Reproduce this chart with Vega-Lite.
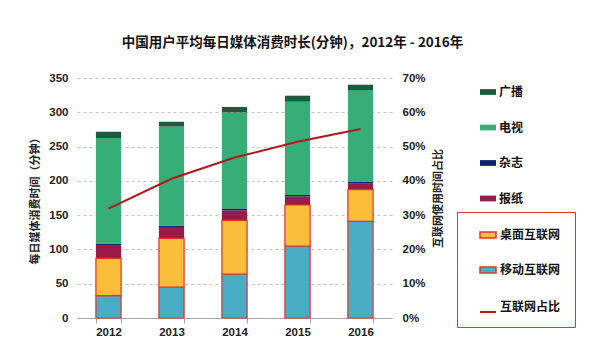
{
  "$schema": "https://vega.github.io/schema/vega-lite/v6.json",
  "width": 315,
  "height": 240,
  "autosize": {"type": "none"},
  "padding": {"left": 77, "top": 78, "right": 208, "bottom": 40},
  "background": "white",
  "title": {
    "text": "中国用户平均每日媒体消费时长(分钟)，2012年  -  2016年",
    "font": "Noto Sans CJK SC",
    "fontSize": 13.5,
    "fontWeight": "bold",
    "color": "#111111",
    "anchor": "middle",
    "dx": 58,
    "offset": 23
  },
  "datasets": {
    "bars": [
      {"年份": "2012", "媒体": "移动互联网", "分钟": 32.5},
      {"年份": "2012", "媒体": "桌面互联网", "分钟": 54.5},
      {"年份": "2012", "媒体": "报纸", "分钟": 18.4},
      {"年份": "2012", "媒体": "杂志", "分钟": 2.9},
      {"年份": "2012", "媒体": "电视", "分钟": 154.1},
      {"年份": "2012", "媒体": "广播", "分钟": 9.2},
      {"年份": "2013", "媒体": "移动互联网", "分钟": 45.2},
      {"年份": "2013", "媒体": "桌面互联网", "分钟": 70.9},
      {"年份": "2013", "媒体": "报纸", "分钟": 16.6},
      {"年份": "2013", "媒体": "杂志", "分钟": 1.9},
      {"年份": "2013", "媒体": "电视", "分钟": 144.8},
      {"年份": "2013", "媒体": "广播", "分钟": 6.9},
      {"年份": "2014", "媒体": "移动互联网", "分钟": 64.2},
      {"年份": "2014", "媒体": "桌面互联网", "分钟": 78.1},
      {"年份": "2014", "媒体": "报纸", "分钟": 14.6},
      {"年份": "2014", "媒体": "杂志", "分钟": 2.9},
      {"年份": "2014", "媒体": "电视", "分钟": 140.0},
      {"年份": "2014", "媒体": "广播", "分钟": 7.9},
      {"年份": "2015", "媒体": "移动互联网", "分钟": 105.0},
      {"年份": "2015", "媒体": "桌面互联网", "分钟": 59.8},
      {"年份": "2015", "媒体": "报纸", "分钟": 12.5},
      {"年份": "2015", "媒体": "杂志", "分钟": 2.1},
      {"年份": "2015", "媒体": "电视", "分钟": 136.0},
      {"年份": "2015", "媒体": "广播", "分钟": 8.8},
      {"年份": "2016", "媒体": "移动互联网", "分钟": 140.9},
      {"年份": "2016", "媒体": "桌面互联网", "分钟": 46.2},
      {"年份": "2016", "媒体": "报纸", "分钟": 8.8},
      {"年份": "2016", "媒体": "杂志", "分钟": 2.9},
      {"年份": "2016", "媒体": "电视", "分钟": 133.6},
      {"年份": "2016", "媒体": "广播", "分钟": 7.8}
    ],
    "share": [
      {"年份": "2012", "占比": 0.319},
      {"年份": "2013", "占比": 0.406},
      {"年份": "2014", "占比": 0.468},
      {"年份": "2015", "占比": 0.514},
      {"年份": "2016", "占比": 0.551}
    ]
  },
  "layer": [
    {
      "data": {"name": "bars"},
      "transform": [
        {"stack": "分钟", "groupby": ["年份"], "as": ["v0", "v1"]}
      ],
      "layer": [
        {
          "transform": [{"filter": {"field": "媒体", "oneOf": ["广播", "电视", "杂志", "报纸"]}}],
          "mark": {"type": "bar"},
          "encoding": {
            "x": {
              "field": "年份", "type": "nominal",
              "scale": {"paddingInner": 0.6, "paddingOuter": 0.3},
              "axis": {"title": null, "labelAngle": 0, "tickBand": "extent", "domainColor": "#a6a6a6", "tickColor": "#a6a6a6", "tickSize": 5, "labelPadding": 3, "labelFont": "Liberation Sans", "labelFontSize": 11.5, "labelFontWeight": "bold", "labelColor": "#222222"}
            },
            "y": {
              "field": "v1", "type": "quantitative",
              "scale": {"domain": [0, 350], "nice": false},
              "axis": {"title": "每日媒体消费时间（分钟）", "values": [0, 50, 100, 150, 200, 250, 300, 350], "domain": false, "ticks": false, "grid": true, "gridDash": [3, 3], "gridColor": "#c4c4c4", "labelPadding": 9, "titlePadding": 8, "labelFont": "Liberation Sans", "labelFontSize": 11.5, "labelFontWeight": "bold", "labelColor": "#222222", "titleFont": "Noto Sans CJK SC", "titleFontSize": 11, "titleFontWeight": "bold", "titleColor": "#222222"}
            },
            "y2": {"field": "v0"},
            "color": {
              "field": "媒体", "type": "nominal",
              "scale": {"domain": ["广播", "电视", "杂志", "报纸"], "range": ["#1d5a3d", "#35ae78", "#0d2566", "#9b1a47"]},
              "legend": {
                "title": null, "orient": "none", "legendX": 403, "legendY": 6, "padding": 0,
                "symbolType": "M-1,-0.36H1V0.36H-1Z", "symbolSize": 256, "symbolStrokeWidth": 0,
                "rowPadding": 21.5, "labelOffset": 3,
                "labelFont": "Noto Sans CJK SC", "labelFontSize": 12, "labelFontWeight": "bold", "labelColor": "#111111"
              }
            }
          }
        },
        {
          "transform": [{"filter": {"field": "媒体", "oneOf": ["桌面互联网", "移动互联网"]}}],
          "mark": {"type": "bar", "stroke": "#e2342b", "strokeWidth": 1.2},
          "encoding": {
            "x": {"field": "年份", "type": "nominal", "axis": {"title": null, "labelAngle": 0, "tickBand": "extent", "domainColor": "#a6a6a6", "tickColor": "#a6a6a6", "tickSize": 5, "labelPadding": 3, "labelFont": "Liberation Sans", "labelFontSize": 11.5, "labelFontWeight": "bold", "labelColor": "#222222"}},
            "y": {
              "field": "v1", "type": "quantitative",
              "axis": {"title": "每日媒体消费时间（分钟）", "values": [0, 50, 100, 150, 200, 250, 300, 350], "domain": false, "ticks": false, "grid": true, "gridDash": [3, 3], "gridColor": "#c4c4c4", "labelPadding": 9, "titlePadding": 8, "labelFont": "Liberation Sans", "labelFontSize": 11.5, "labelFontWeight": "bold", "labelColor": "#222222", "titleFont": "Noto Sans CJK SC", "titleFontSize": 11, "titleFontWeight": "bold", "titleColor": "#222222"}
            },
            "y2": {"field": "v0"},
            "color": {
              "field": "媒体", "type": "nominal",
              "scale": {"domain": ["桌面互联网", "移动互联网"], "range": ["#fbbd3a", "#4bacc6"]},
              "legend": {
                "title": "互联网占比", "titleOrient": "bottom", "titleAnchor": "end", "titlePadding": 26,
                "titleFont": "Noto Sans CJK SC", "titleFontSize": 12, "titleFontWeight": "bold", "titleColor": "#111111",
                "orient": "none", "legendX": 380, "legendY": 134, "padding": 14,
                "strokeColor": "#e2342b", "symbolOffset": 8,
                "symbolType": "M-1,-0.36H1V0.36H-1Z", "symbolSize": 256,
                "rowPadding": 20, "labelOffset": 3,
                "labelFont": "Noto Sans CJK SC", "labelFontSize": 12, "labelFontWeight": "bold", "labelColor": "#111111"
              }
            }
          }
        }
      ],
      "resolve": {"scale": {"color": "independent"}}
    },
    {
      "data": {"name": "share"},
      "mark": {"type": "line", "strokeWidth": 2},
      "encoding": {
        "x": {"field": "年份", "type": "nominal", "axis": {"title": null, "labelAngle": 0, "tickBand": "extent", "domainColor": "#a6a6a6", "tickColor": "#a6a6a6", "tickSize": 5, "labelPadding": 3, "labelFont": "Liberation Sans", "labelFontSize": 11.5, "labelFontWeight": "bold", "labelColor": "#222222"}},
        "y": {
          "field": "占比", "type": "quantitative",
          "scale": {"domain": [0, 0.7], "nice": false},
          "axis": {"orient": "right", "title": "互联网使用时间占比", "titleAngle": 270, "format": ".0%", "values": [0, 0.1, 0.2, 0.3, 0.4, 0.5, 0.6, 0.7], "domain": false, "ticks": false, "grid": false, "labelPadding": 10, "titlePadding": 18, "labelFont": "Liberation Sans", "labelFontSize": 11.5, "labelFontWeight": "bold", "labelColor": "#222222", "titleFont": "Noto Sans CJK SC", "titleFontSize": 11, "titleFontWeight": "bold", "titleColor": "#222222"}
        },
        "color": {
          "datum": "互联网占比", "type": "nominal",
          "scale": {"domain": ["互联网占比"], "range": ["#b0191c"]},
          "legend": {
            "title": null, "orient": "none", "legendX": 394, "legendY": 225, "padding": 0,
            "symbolOffset": 8,
            "symbolType": "stroke", "symbolSize": 256, "symbolStrokeWidth": 2,
            "labelOffset": 3,
            "labelExpr": "''",
            "labelFont": "Noto Sans CJK SC", "labelFontSize": 12, "labelFontWeight": "bold", "labelColor": "#111111"
          }
        }
      }
    }
  ],
  "resolve": {"scale": {"y": "independent", "color": "independent"}},
  "config": {"view": {"stroke": null}}
}
